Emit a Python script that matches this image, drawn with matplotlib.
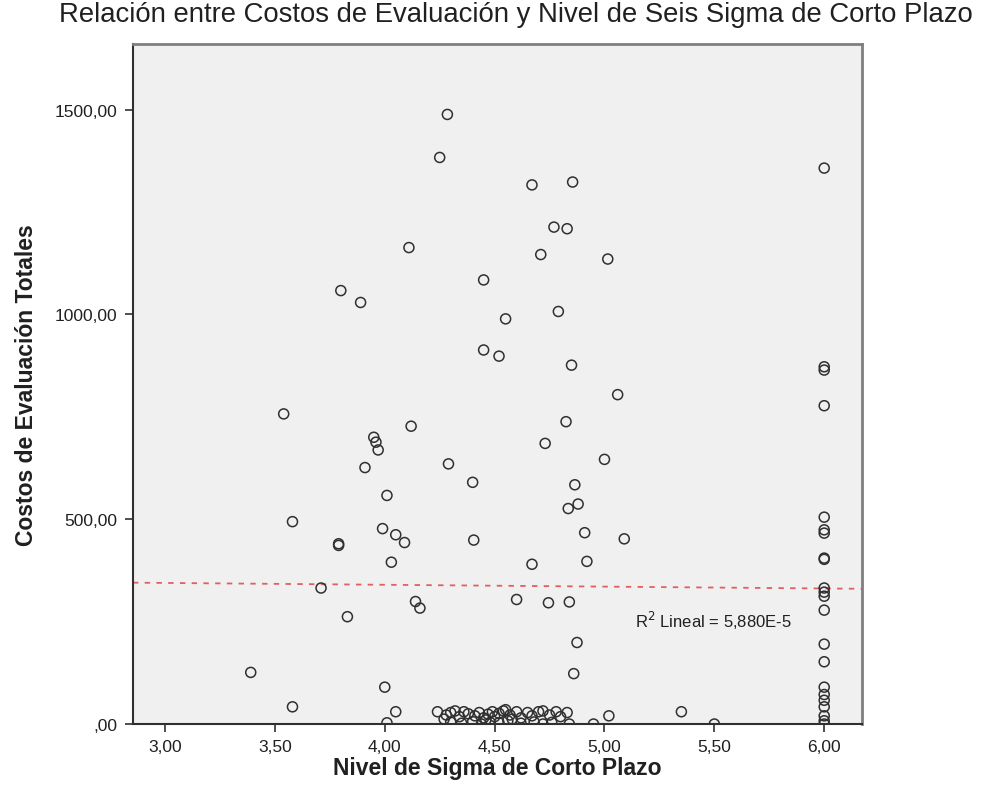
import numpy as np
import matplotlib.pyplot as plt
from matplotlib.ticker import FuncFormatter

# Nivel de sigma (x) y costos de evaluación (y)
sigma_scatter = [3.39, 3.58, 3.54, 3.58, 3.71, 3.83, 3.79, 3.79,
                 3.80, 3.89, 3.91, 3.95, 3.96, 3.97, 3.99, 4.01, 4.03, 4.05, 4.09,
                 4.00, 4.05, 4.01, 4.11, 4.12, 4.14, 4.16,
                 4.25, 4.285, 4.29, 4.40, 4.405, 4.45, 4.45, 4.52, 4.55, 4.60,
                 4.67, 4.67, 4.71, 4.73, 4.745, 4.77, 4.79, 4.825, 4.83, 4.835,
                 4.84, 4.85, 4.855, 4.86, 4.865, 4.875, 4.88, 4.91, 4.92,
                 5.00, 5.015, 5.02, 5.06, 5.09, 4.95, 5.35, 5.50]
costo_scatter = [126, 42, 757, 494, 332, 262, 440, 436,
                 1058, 1029, 626, 700, 688, 669, 477, 558, 395, 462, 443,
                 90, 30, 3, 1163, 727, 299, 283,
                 1383, 1488, 635, 590, 449, 913, 1084, 898, 989, 304,
                 390, 1316, 1146, 685, 296, 1213, 1007, 738, 1209, 526,
                 298, 876, 1323, 123, 584, 199, 537, 467, 397,
                 646, 1135, 20, 804, 452, 0, 30, 0]

# columna en 6,00
sigma_seis = [6.0] * 22
costo_seis = [1357, 872, 864, 777, 505, 474, 466, 405, 402, 332, 322, 312,
              278, 195, 152, 90, 72, 58, 42, 20, 8, 0]

# grupo denso cerca de cero
sigma_cero = [4.24, 4.28, 4.30, 4.32, 4.34, 4.36, 4.38, 4.41, 4.43, 4.45,
              4.47, 4.49, 4.50, 4.52, 4.54, 4.55, 4.57, 4.60, 4.62, 4.65,
              4.67, 4.70, 4.72, 4.75, 4.78, 4.80, 4.83,
              4.30, 4.35, 4.40, 4.44, 4.48, 4.52, 4.56, 4.62, 4.68, 4.72,
              4.76, 4.84, 4.27, 4.46, 4.58]
costo_cero = [30, 22, 28, 32, 18, 30, 25, 20, 28, 15,
              24, 30, 18, 26, 32, 35, 22, 30, 15, 28,
              20, 30, 32, 22, 30, 18, 28,
              5, 2, 6, 0, 4, 3, 8, 2, 5, 0,
              4, 0, 12, 10, 12]

# recta de ajuste lineal
fit_intercept = 357.9
fit_slope = -4.5
r2_text = "R$^2$ Lineal = 5,880E-5"

x = np.array(sigma_scatter + sigma_seis + sigma_cero)
y = np.array(costo_scatter + costo_seis + costo_cero)

plt.rcParams['font.family'] = ['Liberation Sans', 'DejaVu Sans']

fig = plt.figure(figsize=(9.82, 8.03), dpi=100)
ax = fig.add_axes([0.1354, 0.0971, 0.7424, 0.8469])
ax.set_facecolor('#F0F0F0')

ax.scatter(x, y, s=52, facecolors='none', edgecolors='#303030', linewidths=1.1, zorder=3)

xlim = (2.854, 6.172)
xs = np.array(xlim)
ax.plot(xs, fit_intercept + fit_slope * xs, color='#E06060', linestyle=(0, (3, 3.5)),
        linewidth=1.3, zorder=2)
ax.text(5.139, 254, r2_text, fontsize=12, color='#202020', va='center', ha='left')

ax.set_xlim(*xlim)
ax.set_ylim(0, 1660)
ax.set_xticks(np.arange(3.0, 6.01, 0.5))
ax.set_yticks([0, 500, 1000, 1500])


def coma(v, pos):
    s = f"{v:.2f}".replace('.', ',')
    if s.startswith('0,'):
        s = s[1:]
    return s


ax.xaxis.set_major_formatter(FuncFormatter(coma))
ax.yaxis.set_major_formatter(FuncFormatter(coma))
ax.tick_params(direction='out', length=6, width=1.2, color='#303030',
               labelsize=12.5, labelcolor='#202020', pad=5)
ax.tick_params(axis='x', pad=5)

for side in ['top', 'right']:
    ax.spines[side].set_color('#7F7F7F')
    ax.spines[side].set_linewidth(2)
for side in ['left', 'bottom']:
    ax.spines[side].set_color('#303030')
    ax.spines[side].set_linewidth(1.5)

ax.set_xlabel('Nivel de Sigma de Corto Plazo', fontsize=16.5, fontweight='bold',
              color='#202020', labelpad=1)
ax.set_ylabel('Costos de Evaluación Totales', fontsize=16.5, fontweight='bold',
              color='#202020', labelpad=12)
fig.text(516 / 982, 1 - 15 / 803, 'Relación entre Costos de Evaluación y Nivel de Seis Sigma de Corto Plazo',
         fontsize=19.8, ha='center', va='center', color='#202020')

fig.savefig('out.png', dpi=100)
